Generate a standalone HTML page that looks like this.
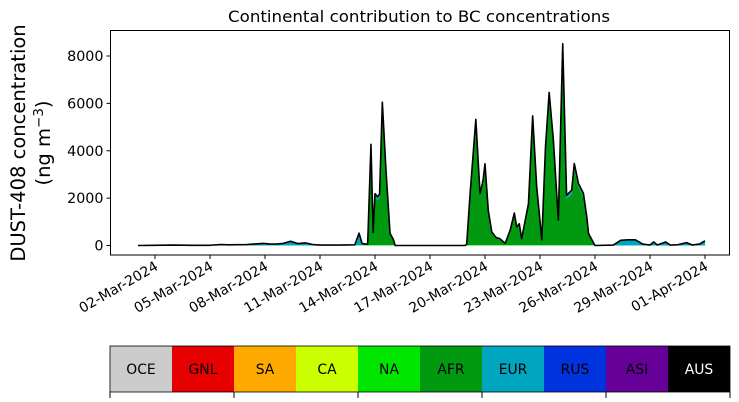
<!DOCTYPE html>
<html><head><meta charset="utf-8"><style>
body{margin:0;background:#fff;}
svg{display:block;font-family:"DejaVu Sans","Liberation Sans",sans-serif;}
</style></head><body>
<svg id="c" width="739" height="402" xmlns="http://www.w3.org/2000/svg"></svg>
<script>
// day of March (fractional)
const days = [1.07,2,3,4,5,5.6,6,7,7.9,8.3,8.6,9,9.4,9.8,10.2,10.6,11,12,12.9,13.13,13.3,13.6,13.78,13.9,14.0,14.14,14.25,14.4,14.6,14.82,15.0,15.1,16,17,18,18.9,19.0,19.2,19.5,19.73,19.9,20.0,20.18,20.37,20.6,20.8,21.1,21.37,21.6,21.73,21.87,22.0,22.37,22.6,22.82,23.1,23.3,23.5,23.73,24.0,24.24,24.45,24.73,24.87,25.1,25.37,25.55,25.65,26.0,27,27.4,27.8,28.2,28.6,29,29.2,29.4,29.85,30.1,30.5,31,31.3,31.7,32];
const afr  = [0,0,0,0,0,0,0,0,0,0,0,0,0,0,0,0,0,0,0,0,0,0,3900,500,2000,1900,2000,5700,3000,450,220,0,0,0,0,0,0,2200,5000,2050,2600,3250,1380,520,300,230,60,580,1280,720,860,250,1650,5150,2300,200,3950,6200,4250,1000,8000,1950,2150,3200,2450,2050,1130,450,0,0,0,0,0,0,0,0,0,0,0,0,0,0,0,0];
const eur  = [0,10,20,10,10,40,30,40,90,60,60,90,180,80,110,40,20,20,30,500,60,30,350,40,170,140,150,330,150,40,20,0,0,0,0,0,20,100,300,110,160,180,70,30,20,40,10,40,70,40,40,20,90,300,160,20,200,240,180,60,500,150,170,240,140,130,70,30,0,20,220,240,240,60,20,150,20,150,20,30,120,20,60,200];
const na   = [0,0,0,0,0,0,0,0,0,0,0,0,0,0,0,0,0,0,0,20,20,20,20,20,20,20,20,20,20,20,20,0,0,0,0,0,20,20,20,20,20,20,20,20,20,20,20,20,20,20,20,20,20,20,20,20,20,20,20,20,20,20,20,20,20,20,20,20,0,0,0,0,0,0,0,0,0,0,0,0,0,0,0,0];
const yTicks = [0,2000,4000,6000,8000];
const xTickDays = [2,5,8,11,14,17,20,23,26,29,32];
const xTickLabels = ["02-Mar-2024","05-Mar-2024","08-Mar-2024","11-Mar-2024","14-Mar-2024","17-Mar-2024","20-Mar-2024","23-Mar-2024","26-Mar-2024","29-Mar-2024","01-Apr-2024"];
const cbNames = ["OCE","GNL","SA","CA","NA","AFR","EUR","RUS","ASI","AUS"];
const cbColors = ["#cccccc","#e60000","#ffaa00","#ccff00","#00e600","#009910","#00a5bf","#0033dd","#660099","#000000"];

const NS="http://www.w3.org/2000/svg", svg=document.getElementById('c');
const L=110.5,R=729.5,T=30.5,B=255;
const X=d=>155+(d-2)*18.333;
const Y=v=>245.5-v*189.5/8000;
function el(tag,attrs,parent){const e=document.createElementNS(NS,tag);for(const k in attrs)e.setAttribute(k,attrs[k]);(parent||svg).appendChild(e);return e;}

const title=el('text',{x:419,y:22,'text-anchor':'middle','font-size':16,textLength:382,lengthAdjust:'spacingAndGlyphs'});


title.textContent='Continental contribution to BC concentrations';

const layers=[[na,"#00e600"],[afr,"#009910"],[eur,"#00a5bf"]];
let base=days.map(()=>0);
const layerNames=['area-na','area-afr','area-eur'];
layers.forEach(([arr,col],li)=>{
  const top=base.map((b,i)=>b+arr[i]);
  let d='M'+days.map((t,i)=>X(t)+','+Y(top[i])).join('L');
  for(let i=days.length-1;i>=0;i--) d+='L'+X(days[i])+','+Y(base[i]);
  const p=el('path',{d:d+'Z',fill:col});
  
  
  base=top;
});
const tl=el('path',{d:'M'+days.map((t,i)=>X(t)+','+Y(base[i])).join('L'),fill:'none',stroke:'#000','stroke-width':1.6,'stroke-linejoin':'round'});



const frame=el('rect',{x:L,y:T,width:R-L,height:B-T,fill:'none',stroke:'#000','stroke-width':1});



yTicks.forEach(v=>{
  el('line',{x1:L-4,x2:L,y1:Y(v),y2:Y(v),stroke:'#000'});
  const t=el('text',{x:L-7,y:Y(v)+5,'text-anchor':'end','font-size':14.3});
  
  
  t.textContent=v;
});
xTickDays.forEach((d,i)=>{
  const x=X(d);
  el('line',{x1:x,x2:x,y1:B,y2:B+4,stroke:'#000'});
  const t=el('text',{x:0,y:0,'text-anchor':'end','font-size':13.9,transform:`translate(${x+4},${B+14}) rotate(-30)`});
  
  
  t.textContent=xTickLabels[i];
});
const yl=el('text',{x:0,y:0,'text-anchor':'middle','font-size':19.5,transform:'translate(25,143) rotate(-90)'});


yl.textContent='DUST-408 concentration';
const yl2=el('text',{x:0,y:0,'text-anchor':'middle','font-size':19.5,transform:'translate(50,143) rotate(-90)'});


yl2.innerHTML='(ng m<tspan dy="-7" font-size="13.5">−3</tspan><tspan dy="7">)</tspan>';

const cw=62,cy=346,ch=46;
cbNames.forEach((n,i)=>{
  const r=el('rect',{x:110+i*cw,y:cy,width:cw,height:ch,fill:cbColors[i]});
  
  
  const t=el('text',{x:110+i*cw+cw/2,y:cy+ch/2+5,'text-anchor':'middle','font-size':13.9,fill:n==='AUS'?'#fff':'#000'});
  
  
  t.textContent=n;
});
el('rect',{x:110,y:cy,width:620,height:ch,fill:'none',stroke:'#000','stroke-width':0.8});
[0,2,4,6,8,10].forEach(k=>el('line',{x1:110+k*cw,x2:110+k*cw,y1:cy+ch,y2:cy+ch+6,stroke:'#000'}));
</script>
</body></html>
